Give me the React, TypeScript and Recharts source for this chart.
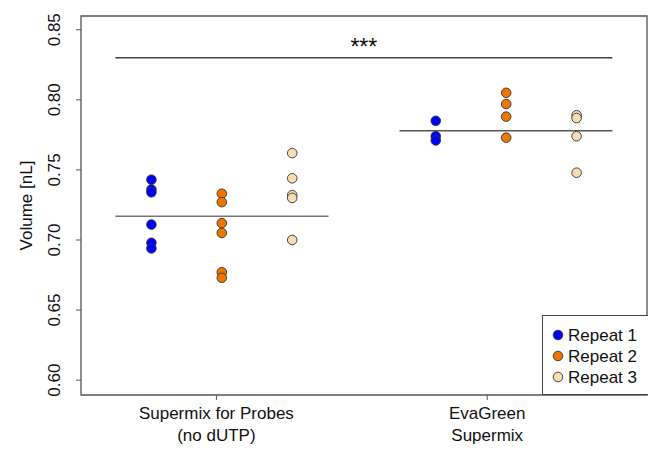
import { ScatterChart, Scatter, XAxis, YAxis, ReferenceLine, ReferenceArea, Legend } from 'recharts'

document.body.style.margin = '0'

const FONT = '"Liberation Sans", Arial, sans-serif'

// groups on the x axis (tick at 1 and 2)
const groupTicks = [1, 2]
const groupLabels = [['Supermix for Probes', '(no dUTP)'], ['EvaGreen', 'Supermix']]

const repeats = ['Repeat 1', 'Repeat 2', 'Repeat 3']
const repeatColors = ['#0000ff', '#ee7600', '#f5deb3']

// x position of each repeat column inside the groups
const probesX = [0.76, 1.02, 1.28]
const evaGreenX = [1.81, 2.07, 2.33]

// droplet volumes [nL]
const probesRepeat1 = [0.743, 0.736, 0.734, 0.711, 0.698, 0.694]
const probesRepeat2 = [0.733, 0.727, 0.712, 0.705, 0.677, 0.673]
const probesRepeat3 = [0.762, 0.744, 0.732, 0.730, 0.700]
const evaGreenRepeat1 = [0.785, 0.774, 0.771]
const evaGreenRepeat2 = [0.805, 0.797, 0.788, 0.773]
const evaGreenRepeat3 = [0.789, 0.787, 0.774, 0.748]

const groupMeans = [0.717, 0.778]
const meanSpans = [[0.627, 1.414], [1.676, 2.462]]
const sigLevel = 0.83
const sigSpan = [0.627, 2.462]
const sigLabel = '***'

const yTicks = [0.6, 0.65, 0.7, 0.75, 0.8, 0.85]
const yDomain = [0.5894, 0.8598]
const xDomain = [0.5, 2.59]

const probes = [probesRepeat1, probesRepeat2, probesRepeat3]
const evaGreen = [evaGreenRepeat1, evaGreenRepeat2, evaGreenRepeat3]
const seriesData = repeats.map((_, i) => [
  ...probes[i].map(v => ({ x: probesX[i], y: v })),
  ...evaGreen[i].map(v => ({ x: evaGreenX[i], y: v })),
])

const Dot = (props: any) => {
  const { cx, cy, fill } = props
  if (cx == null || cy == null) return null
  return <circle cx={cx} cy={cy} r={4.8} fill={fill} stroke="#333" strokeWidth={0.9} />
}

const YTick = ({ x, y, payload }: any) => (
  <text x={x - 14} y={y} transform={`rotate(-90, ${x - 14}, ${y})`} textAnchor="middle"
    fontSize={17} fontFamily={FONT} fill="#111">
    {payload.value.toFixed(2)}
  </text>
)

const XTick = ({ x, y, payload }: any) => {
  const lines = groupLabels[groupTicks.indexOf(payload.value)] ?? []
  return (
    <text x={x} y={y} textAnchor="middle" fontSize={17} fontFamily={FONT} fill="#111">
      {lines.map((l, i) => <tspan key={i} x={x} dy={i === 0 ? 17 : 22}>{l}</tspan>)}
    </text>
  )
}

function LegendBox() {
  return (
    <svg width={110} height={80} style={{ display: 'block' }}>
      <rect x={0.5} y={0.5} width={120} height={79} fill="#fff" stroke="#444" strokeWidth={1} />
      {repeats.map((r, i) => (
        <g key={r}>
          <circle cx={16} cy={20 + i * 21} r={4.8} fill={repeatColors[i]} stroke="#333" strokeWidth={0.9} />
          <text x={26} y={26 + i * 21} fontSize={17} fontFamily={FONT} fill="#111">{r}</text>
        </g>
      ))}
    </svg>
  )
}

export default function App() {
  return (
    <div style={{ width: 648, height: 451, background: '#fff' }}>
      <ScatterChart width={648} height={451} margin={{ top: 16, right: 1, bottom: 0, left: 0 }}>
        <XAxis type="number" dataKey="x" domain={xDomain} ticks={groupTicks} allowDataOverflow
          axisLine={false} tickLine={{ stroke: '#555' }} tickSize={5} tick={<XTick />} height={56} />
        <YAxis type="number" dataKey="y" domain={yDomain} ticks={yTicks} allowDataOverflow
          axisLine={false} tickLine={{ stroke: '#555' }} tickSize={5} tick={<YTick />} width={81}
          label={{ value: 'Volume [nL]', angle: -90, position: 'insideLeft', dx: 21, dy: 0,
            style: { fontSize: 17, fontFamily: FONT, fill: '#111', textAnchor: 'middle' } }} />
        <ReferenceArea x1={xDomain[0]} x2={xDomain[1]} y1={yDomain[0]} y2={yDomain[1]}
          fill="none" stroke="#555" strokeWidth={1.3} />
        {groupMeans.map((m, i) => (
          <ReferenceLine key={i} segment={[{ x: meanSpans[i][0], y: m }, { x: meanSpans[i][1], y: m }]}
            stroke={i === 0 ? '#777' : '#555'} strokeWidth={1.5} />
        ))}
        <ReferenceLine segment={[{ x: sigSpan[0], y: sigLevel }, { x: sigSpan[1], y: sigLevel }]}
          stroke="#444" strokeWidth={1.3}
          label={(p: any) => {
            const vb = p.viewBox
            return <text x={vb.x + vb.width / 2} y={vb.y - 3} textAnchor="middle" fontSize={23}
              fontFamily={FONT} fill="#111">{sigLabel}</text>
          }} />
        {repeats.map((r, i) => (
          <Scatter key={r} name={r} data={seriesData[i]} fill={repeatColors[i]} shape={<Dot />}
            isAnimationActive={false} />
        ))}
        <Legend layout="vertical" align="center" verticalAlign="middle" content={<LegendBox />}
          wrapperStyle={{ position: 'absolute', left: 542, top: 315, width: 110, height: 80 }} />
      </ScatterChart>
    </div>
  )
}
